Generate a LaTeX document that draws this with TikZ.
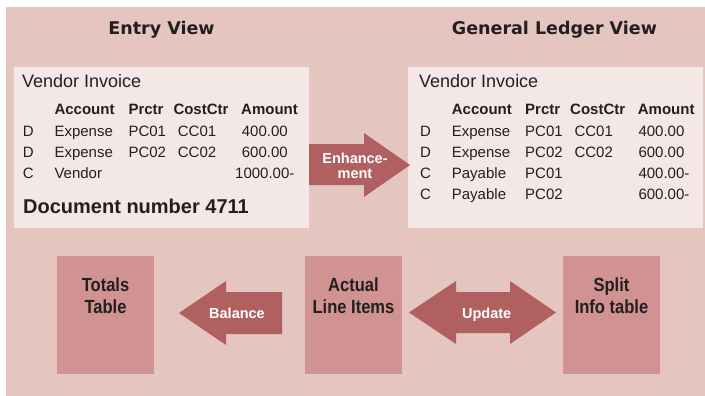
\documentclass[tikz,border=0pt]{standalone}
\usepackage{fontspec}
\setmainfont{Liberation Sans}
\newfontfamily\headfont{DejaVu Sans}
\newfontfamily\condfont{Liberation Sans}[FakeStretch=0.87]
\definecolor{bgc}{RGB}{228,197,192}
\definecolor{lightc}{RGB}{244,232,230}
\definecolor{boxc}{RGB}{208,147,145}
\definecolor{arrc}{RGB}{176,96,96}
\definecolor{textc}{RGB}{35,31,32}
\tikzset{
  lightbox/.style={fill=lightc, draw=none, anchor=north west, inner sep=0pt},
  tablebox/.style={fill=boxc, draw=none, anchor=north west, inner sep=0pt, minimum width=97pt, minimum height=118pt},
  blockarrow/.style={fill=arrc, draw=none},
  headtxt/.style={anchor=base, inner sep=0pt, text=textc, font=\headfont\bfseries\fontsize{17.5}{20}\selectfont},
  titletxt/.style={anchor=base west, inner sep=0pt, text=textc, font=\fontsize{18}{21}\selectfont},
  coltxt/.style={anchor=base west, inner sep=0pt, text=textc, font=\bfseries\fontsize{15}{18}\selectfont},
  celltxt/.style={anchor=base west, inner sep=0pt, text=textc, font=\fontsize{15}{18}\selectfont},
  doctxt/.style={anchor=base west, inner sep=0pt, text=textc, font=\bfseries\fontsize{20}{24}\selectfont},
  arrtxt/.style={anchor=base, inner sep=0pt, text=white, font=\bfseries\fontsize{14.5}{17}\selectfont},
  lbltxt/.style={anchor=base, inner sep=0pt, text=textc, font=\condfont\bfseries\fontsize{19}{22}\selectfont}
}
\begin{document}
\begin{tikzpicture}[x=1pt,y=-1pt]
\useasboundingbox (0,0) rectangle (705,396);
\fill[bgc] (6,7) rectangle (705,396);
% headings
\node[headtxt] (hentry) at (161.5,35) {Entry View};
\node[headtxt] (hgl) at (554.5,35) {General Ledger View};
% white boxes
\node[lightbox, minimum width=295pt, minimum height=161pt] (entry) at (14,67) {};
\node[lightbox, minimum width=295pt, minimum height=161pt] (gl) at (408,67) {};
% entry view table
\node[titletxt] (t1) at (22,87.3) {Vendor Invoice};
\node[coltxt] (a1) at (54.3,114.3) {Account};
\node[coltxt] (p1) at (128.3,114.3) {Prctr};
\node[coltxt] (c1) at (173.3,114.3) {CostCtr};
\node[coltxt] (m1) at (241,114.3) {Amount};
\node[celltxt] (e1d) at (22.7,136.7) {D};
\node[celltxt] (e1a) at (54.3,136.7) {Expense};
\node[celltxt] (e1p) at (128.3,136.7) {PC01};
\node[celltxt] (e1c) at (177.7,136.7) {CC01};
\node[celltxt] (e1m) at (241.7,136.7) {400.00};
\node[celltxt] (e2d) at (22.7,157.8) {D};
\node[celltxt] (e2a) at (54.3,157.8) {Expense};
\node[celltxt] (e2p) at (128.3,157.8) {PC02};
\node[celltxt] (e2c) at (177.7,157.8) {CC02};
\node[celltxt] (e2m) at (241.7,157.8) {600.00};
\node[celltxt] (e3d) at (22.7,178.8) {C};
\node[celltxt] (e3a) at (54.3,178.8) {Vendor};
\node[celltxt] (e3m) at (235,178.8) {1000.00-};
\node[doctxt] (doc) at (23,213.3) {Document number 4711};
% general ledger table
\node[titletxt] (t2) at (419,87.3) {Vendor Invoice};
\node[coltxt] (a2) at (451.7,114.3) {Account};
\node[coltxt] (p2) at (525,114.3) {Prctr};
\node[coltxt] (c2) at (570,114.3) {CostCtr};
\node[coltxt] (m2) at (637.7,114.3) {Amount};
\node[celltxt] (g1d) at (420,136.7) {D};
\node[celltxt] (g1a) at (451.7,136.7) {Expense};
\node[celltxt] (g1p) at (525,136.7) {PC01};
\node[celltxt] (g1c) at (574.3,136.7) {CC01};
\node[celltxt] (g1m) at (638.3,136.7) {400.00};
\node[celltxt] (g2d) at (420,157.8) {D};
\node[celltxt] (g2a) at (451.7,157.8) {Expense};
\node[celltxt] (g2p) at (525,157.8) {PC02};
\node[celltxt] (g2c) at (574.3,157.8) {CC02};
\node[celltxt] (g2m) at (638.3,157.8) {600.00};
\node[celltxt] (g3d) at (420,178.8) {C};
\node[celltxt] (g3a) at (451.7,178.8) {Payable};
\node[celltxt] (g3p) at (525,178.8) {PC01};
\node[celltxt] (g3m) at (638.3,178.8) {400.00-};
\node[celltxt] (g4d) at (420,199.8) {C};
\node[celltxt] (g4a) at (451.7,199.8) {Payable};
\node[celltxt] (g4p) at (525,199.8) {PC02};
\node[celltxt] (g4m) at (638.3,199.8) {600.00-};
% enhancement arrow
\fill[blockarrow] (309,144) -- (364,144) -- (364,133) -- (410,165) -- (364,197) -- (364,185) -- (309,185) -- cycle;
\node[arrtxt] (enh1) at (355,163.3) {Enhance-};
\node[arrtxt] (enh2) at (355,178.3) {ment};
% bottom boxes
\node[tablebox] (totals) at (57,256) {};
\node[tablebox] (actual) at (305,256) {};
\node[tablebox] (split) at (563,256) {};
\node[lbltxt] (tot1) at (105.5,291.7) {Totals};
\node[lbltxt] (tot2) at (105.5,313.3) {Table};
\node[lbltxt] (act1) at (353.5,291.7) {Actual};
\node[lbltxt] (act2) at (353.5,313.3) {Line Items};
\node[lbltxt] (spl1) at (611.5,291.7) {Split};
\node[lbltxt] (spl2) at (611.5,313.3) {Info table};
% balance arrow
\fill[blockarrow] (282,292) -- (226,292) -- (226,281) -- (179,313) -- (226,345) -- (226,334) -- (282,334) -- cycle;
\node[arrtxt] (bal) at (237,318) {Balance};
% update arrow
\fill[blockarrow] (409,312.5) -- (456,281) -- (456,292) -- (510,292) -- (510,281) -- (556,312.5) -- (510,344) -- (510,333) -- (456,333) -- (456,344) -- cycle;
\node[arrtxt] (upd) at (486.7,318) {Update};
\end{tikzpicture}
\end{document}
